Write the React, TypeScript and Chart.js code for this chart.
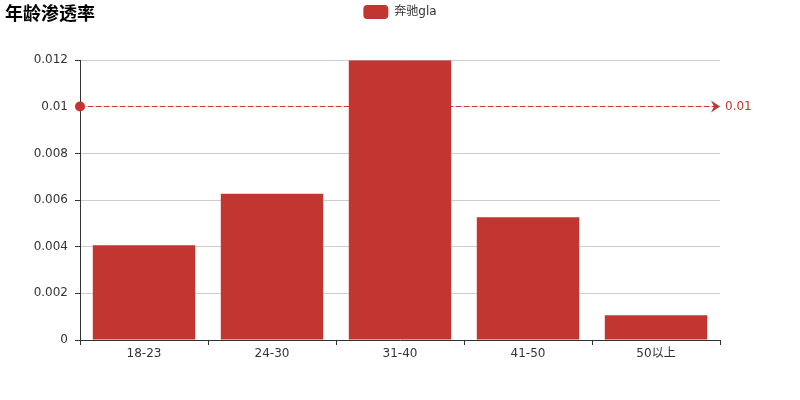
import React, { useEffect, useRef } from 'react';
import { Chart, registerables } from 'chart.js';

Chart.register(...registerables);

const FONT = '"DejaVu Sans", "Noto Sans CJK SC", sans-serif';
const RED = '#c23531';

const titleText = '年龄渗透率';
const seriesName = '奔驰gla';
const ageGroups = ['18-23', '24-30', '31-40', '41-50', '50以上'];
const rates = [0.00406, 0.00627, 0.012, 0.00526, 0.00106];
const yTicks = [0, 0.002, 0.004, 0.006, 0.008, 0.01, 0.012];
const markValue = 0.01;
const markLabel = '0.01';

// title drawn in the same row as the legend
const titlePlugin = {
  id: 'sideTitle',
  afterDraw(chart: Chart) {
    const ctx = chart.ctx;
    ctx.save();
    ctx.font = `bold 18px ${FONT}`;
    ctx.fillStyle = '#000';
    ctx.textBaseline = 'middle';
    ctx.textAlign = 'left';
    ctx.fillText(titleText, 5, 15);
    ctx.restore();
  },
};

// dashed mark line with dot at the start and arrow at the end
const markLinePlugin = {
  id: 'markLine',
  afterDatasetsDraw(chart: Chart) {
    const { ctx, chartArea, scales } = chart;
    // same pixel alignment as the grid lines
    const y = Math.round(scales.y.getPixelForValue(markValue) - 0.5) + 0.5;
    const x0 = chartArea.left;
    const x1 = chartArea.right;
    ctx.save();
    ctx.strokeStyle = RED;
    ctx.fillStyle = RED;
    ctx.lineWidth = 1;
    ctx.setLineDash([5, 3]);
    ctx.beginPath();
    ctx.moveTo(x0, y);
    ctx.lineTo(x1 - 6, y);
    ctx.stroke();
    ctx.setLineDash([]);
    ctx.beginPath();
    ctx.arc(x0, y, 5, 0, Math.PI * 2);
    ctx.fill();
    ctx.beginPath();
    ctx.moveTo(x1, y);
    ctx.lineTo(x1 - 9, y - 6);
    ctx.lineTo(x1 - 6, y);
    ctx.lineTo(x1 - 9, y + 6);
    ctx.closePath();
    ctx.fill();
    ctx.font = `12px ${FONT}`;
    ctx.textBaseline = 'middle';
    ctx.textAlign = 'left';
    ctx.fillText(markLabel, x1 + 5, y + 0.5);
    ctx.restore();
  },
};

const App: React.FC = () => {
  const chartRef = useRef<HTMLCanvasElement | null>(null);
  const chartInstance = useRef<Chart | null>(null);

  useEffect(() => {
    if (!chartRef.current) return;
    if (chartInstance.current) chartInstance.current.destroy();

    chartInstance.current = new Chart(chartRef.current, {
      type: 'bar',
      data: {
        labels: ageGroups,
        datasets: [
          {
            label: seriesName,
            data: rates,
            backgroundColor: RED,
            borderWidth: 0,
            barPercentage: 0.8,
            categoryPercentage: 1,
          },
        ],
      },
      options: {
        animation: false,
        responsive: false,
        layout: { padding: 0 },
        plugins: {
          // empty title used as a spacer between legend and plot
          title: {
            display: true,
            text: '',
            weight: 0,
            font: { size: 1 },
            padding: { top: 15, bottom: 15 },
          },
          // empty subtitle on the right keeps room for the mark line label
          subtitle: {
            display: true,
            text: '',
            position: 'right',
            fullSize: false,
            font: { size: 1 },
            padding: { top: 39.4, bottom: 39.4 },
          },
          tooltip: { enabled: false },
          legend: {
            display: true,
            position: 'top',
            labels: {
              boxWidth: 25,
              boxHeight: 14,
              padding: 5,
              useBorderRadius: true,
              borderRadius: 4,
              color: '#333',
              font: { family: FONT, size: 12 },
            },
          },
        },
        scales: {
          x: {
            afterFit: (scale: any) => {
              scale.height = 60;
            },
            grid: {
              offset: true,
              drawOnChartArea: false,
              drawTicks: true,
              tickLength: 5,
              tickColor: '#333',
            },
            border: { color: '#333' },
            ticks: {
              color: '#333',
              padding: 2,
              font: { family: FONT, size: 12 },
            },
          },
          y: {
            min: 0,
            max: 0.012,
            afterFit: (scale: any) => {
              scale.width = 80;
            },
            afterBuildTicks: (scale: any) => {
              scale.ticks = yTicks.map((v) => ({ value: v }));
            },
            grid: {
              color: '#ccc',
              tickColor: '#333',
              tickLength: 5,
            },
            border: { color: '#333' },
            ticks: {
              color: '#333',
              padding: 7,
              font: { family: FONT, size: 12 },
              callback: (v: any) => String(Number(Number(v).toFixed(4))),
            },
          },
        },
      },
      plugins: [titlePlugin, markLinePlugin],
    });

    return () => {
      if (chartInstance.current) {
        chartInstance.current.destroy();
        chartInstance.current = null;
      }
    };
  }, []);

  return (
    <div style={{ position: 'absolute', left: 0, top: 0, width: 800, height: 400, background: '#fff' }}>
      <canvas ref={chartRef} width={800} height={400} style={{ width: 800, height: 400 }}></canvas>
    </div>
  );
};

export default App;
